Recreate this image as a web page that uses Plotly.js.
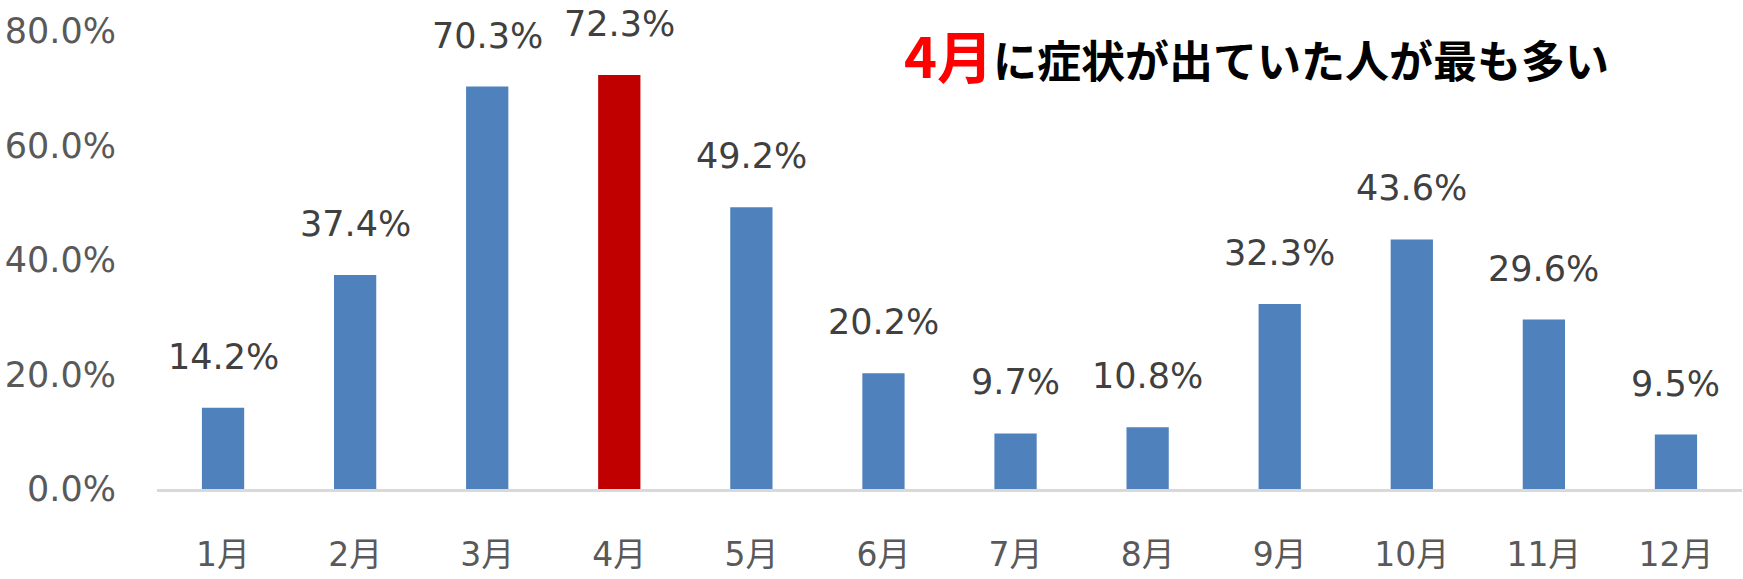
<!DOCTYPE html>
<html>
<head>
<meta charset="utf-8">
<script src="https://cdn.plot.ly/plotly-3.0.1.min.js"></script>
<style>
  html, body { margin: 0; padding: 0; background: #fff; }
  #chart { width: 1743px; height: 579px; }
</style>
</head>
<body>
<div id="chart"></div>
<script>
// data
var months = ['1月', '2月', '3月', '4月', '5月', '6月', '7月', '8月', '9月', '10月', '11月', '12月'];
var rates = [14.2, 37.4, 70.3, 72.3, 49.2, 20.2, 9.7, 10.8, 32.3, 43.6, 29.6, 9.5];
var highlight = '4月';
var yTicks = [0, 20, 40, 60, 80];

var baseFont = 'Verdana, "DejaVu Sans", "Noto Sans CJK JP", sans-serif';

var barColors = months.map(m => m === highlight ? '#C00000' : '#4F81BD');

var bars = {
    x: months,
    y: rates,
    type: 'bar',
    marker: { color: barColors },
    hoverinfo: 'skip'
};

// value labels above each bar
var labels = months.map((m, i) => ({
    x: m,
    y: rates[i],
    xref: 'x',
    yref: 'y',
    text: rates[i].toFixed(1) + '%',
    showarrow: false,
    yanchor: 'bottom',
    yshift: 29,
    font: { family: baseFont, size: 35, color: '#404040' }
}));

var headline = {
    xref: 'paper',
    yref: 'paper',
    x: 0.694,
    y: 0.95,
    xanchor: 'center',
    yanchor: 'middle',
    showarrow: false,
    text: '<b><span style="color:#FF0000;font-size:56px">4月</span>に症状が出ていた人が最も多い</b>',
    font: { family: '"Noto Sans CJK JP", sans-serif', size: 44, color: '#000000' }
};

var layout = {
    width: 1743,
    height: 579,
    margin: { l: 157, r: 1, t: 31, b: 90, pad: 0 },
    paper_bgcolor: '#ffffff',
    plot_bgcolor: '#ffffff',
    showlegend: false,
    bargap: 0.68,
    xaxis: {
        type: 'category',
        showline: true,
        linecolor: '#D9D9D9',
        linewidth: 3,
        ticks: '',
        showgrid: false,
        zeroline: false,
        ticklabelstandoff: 34,
        tickfont: { family: baseFont, size: 33, color: '#595959' }
    },
    yaxis: {
        range: [0, 80],
        tickvals: yTicks,
        ticktext: yTicks.map(v => v.toFixed(1) + '%'),
        showgrid: false,
        zeroline: false,
        showline: false,
        ticks: '',
        ticklabelstandoff: 40,
        tickfont: { family: baseFont, size: 35, color: '#595959' }
    },
    annotations: labels.concat([headline])
};

Plotly.newPlot('chart', [bars], layout, { displayModeBar: false, staticPlot: true });
</script>
</body>
</html>
